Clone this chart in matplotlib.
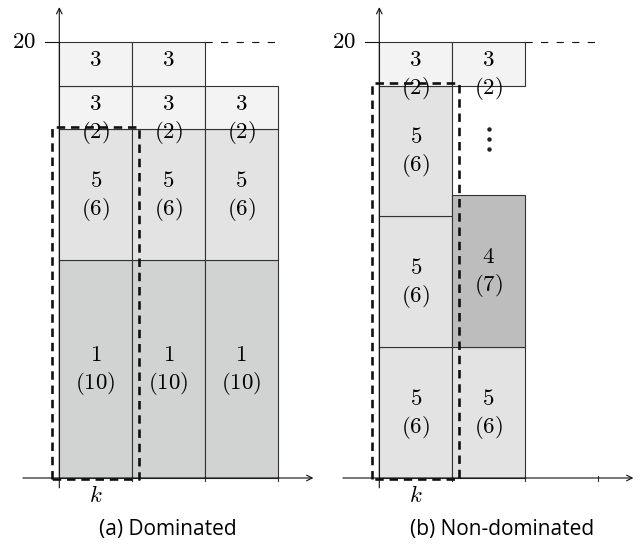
import matplotlib
matplotlib.use('Agg')
import matplotlib.pyplot as plt

plt.rcParams['mathtext.fontset'] = 'cm'

# column stacks, bottom to top: block values, heights (weights), weight labels
a_values = [[1, 5, 3, 3], [1, 5, 3, 3], [1, 5, 3]]
a_heights = [[10, 6, 2, 2], [10, 6, 2, 2], [10, 6, 2]]
a_wlabels = [['(10)', '(6)', '(2)', ''], ['(10)', '(6)', '(2)', ''], ['(10)', '(6)', '(2)']]

# None = empty gap (drawn with dots)
b_values = [[5, 5, 5, 3], [5, 4, None, 3]]
b_heights = [[6, 6, 6, 2], [6, 7, 5, 2]]
b_wlabels = [['(6)', '(6)', '(6)', '(2)'], ['(6)', '(7)', '', '(2)']]

capacity = 20
k_top = [16.1, 18.1]
captions = ['(a) Dominated', '(b) Non-dominated']

colors = {1: '#d1d3d3', 5: '#e3e3e3', 3: '#f3f3f3', 4: '#bdbdbd'}

fig = plt.figure(figsize=(6.4, 5.44), dpi=100)

# pixel layout: origin, unit sizes
x0s = [59.3, 379.3]
y0 = 478.0
ux = 72.8
uy = 21.8
xlim = (-0.6, 3.6)
ylim = (-2.5, 21.8)
fs = 16.5


def draw_panel(ax, values, heights, wlabels, ktop):
    for c in range(len(values)):
        bottom = 0
        for v, h, w in zip(values[c], heights[c], wlabels[c]):
            if v is None:
                # vertical ellipsis in the gap
                mid = bottom + h / 2
                ax.plot([c + 0.5] * 3, [mid + 0.5, mid + 0.04, mid - 0.42], 'o',
                        color='#222222', ms=2.2)
                bottom += h
                continue
            ax.bar(c + 0.5, h, bottom=bottom, width=1, color=colors[v],
                   edgecolor='#333333', linewidth=0.8, zorder=1)
            mid = bottom + h / 2
            ytop = mid + 0.2 if h <= 2 else mid + 0.65
            ax.text(c + 0.5, ytop, '$%d$' % v, ha='center', va='center', fontsize=fs, zorder=3)
            if w:
                ax.text(c + 0.5, ytop - 1.33, '$%s$' % w, ha='center', va='center',
                        fontsize=fs, zorder=3)
            bottom += h

    # axes with arrows
    ax.annotate('', xy=(3.49, 0), xytext=(-0.5, 0),
                arrowprops=dict(arrowstyle='->', lw=0.8, color='#111111', shrinkA=0, shrinkB=0))
    ax.annotate('', xy=(0, 21.6), xytext=(0, -0.45),
                arrowprops=dict(arrowstyle='->', lw=0.8, color='#111111', shrinkA=0, shrinkB=0))
    for t in [1, 2, 3]:
        ax.plot([t, t], [-0.15, 0.1], color='#333333', lw=0.8)

    # capacity line
    ax.plot([-0.2, 0], [capacity, capacity], color='#111111', lw=0.8)
    ax.plot([2, 3], [capacity, capacity], color='#111111', lw=0.8, linestyle=(0, (6.5, 7.5)))
    ax.text(-0.32, capacity, '$20$', ha='right', va='center', fontsize=fs)

    # k window
    ax.plot([-0.1, -0.1, 1.1, 1.1, -0.1], [-0.05, ktop, ktop, -0.05, -0.05],
            color='#111111', lw=1.9, linestyle=(0, (3.2, 2.2)), zorder=4)
    ax.text(0.5, -0.8, '$k$', ha='center', va='center', fontsize=fs)

    ax.set_xlim(*xlim)
    ax.set_ylim(*ylim)
    ax.axis('off')


panels = [(a_values, a_heights, a_wlabels), (b_values, b_heights, b_wlabels)]
for i, (vals, hts, wl) in enumerate(panels):
    left = x0s[i] + xlim[0] * ux
    bottom_px = y0 - ylim[0] * uy
    w = (xlim[1] - xlim[0]) * ux
    h = (ylim[1] - ylim[0]) * uy
    ax = fig.add_axes([left / 640, (544 - bottom_px) / 544, w / 640, h / 544])
    draw_panel(ax, vals, hts, wl, k_top[i])

fig.text(168 / 640, 1 - 529 / 544, captions[0], ha='center', va='center',
         fontsize=15, family='Open Sans')
fig.text(502 / 640, 1 - 529 / 544, captions[1], ha='center', va='center',
         fontsize=15, family='Open Sans')

fig.savefig('out.png', dpi=100)
